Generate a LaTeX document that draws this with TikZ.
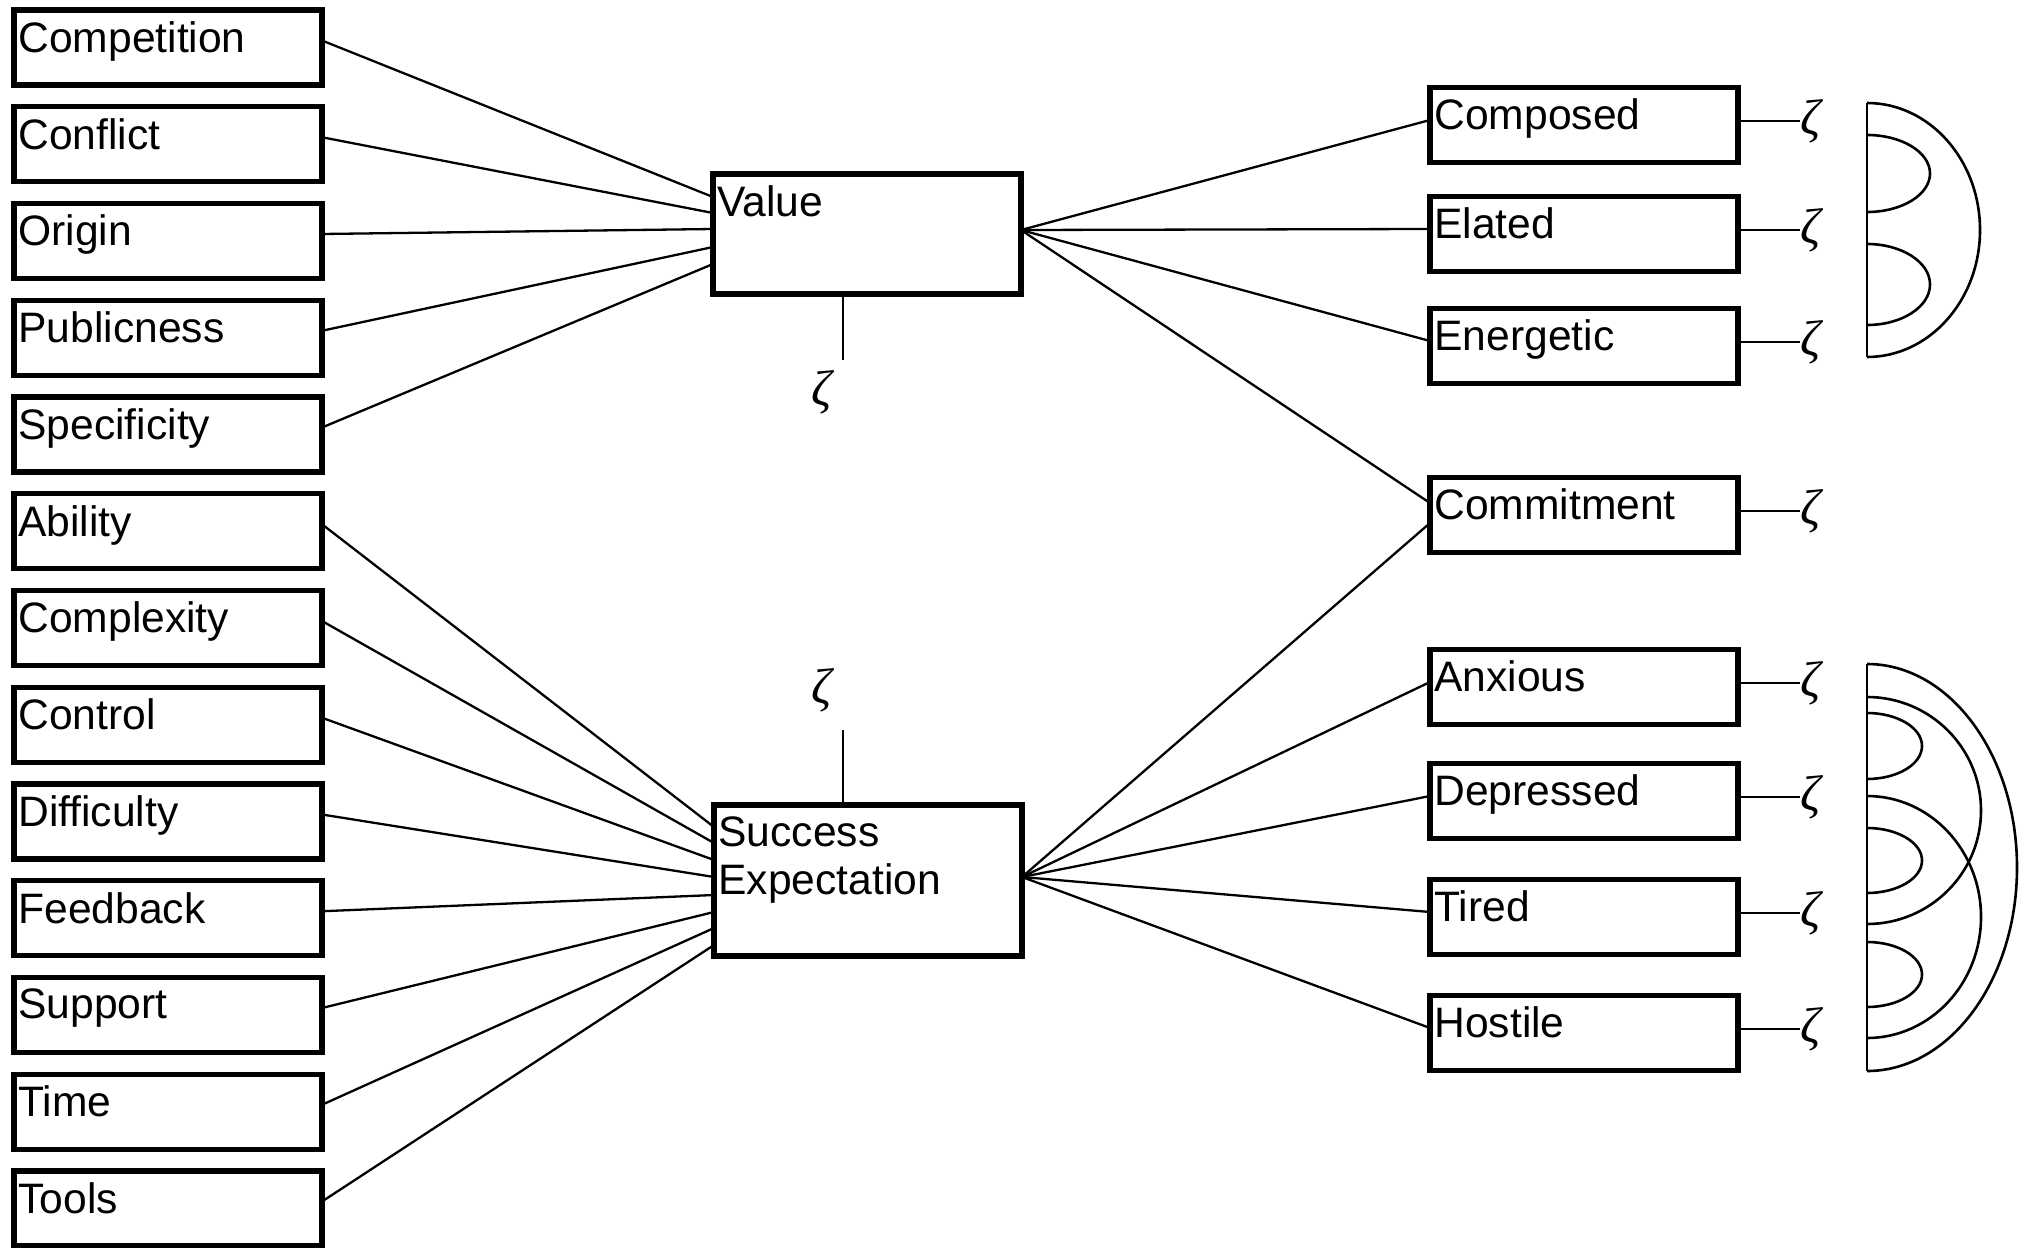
\documentclass[tikz,border=0pt]{standalone}
\usepackage{fontspec}
\setmainfont{Liberation Sans}
\newfontfamily\zetafont{Liberation Serif}
\usetikzlibrary{positioning}

\newcommand{\boxfont}{\fontsize{21.3}{24}\selectfont}
\newcommand{\zetasym}{{\zetafont\itshape ζ}}

\begin{document}
\begin{tikzpicture}[x=0.5pt,y=-0.5pt,
    var node/.style={draw,line width=2.6pt,outer sep=0pt,inner sep=0pt,
      minimum width=154pt,minimum height=37.5pt},
    lbl/.style={anchor=north west,inner sep=0pt,xshift=2pt,yshift=-5.5pt,
      font=\boxfont,align=left},
    zeta/.style={inner sep=0pt,font=\fontsize{25}{27}\selectfont},
    link/.style={line width=1.15pt},
    cov/.style={line width=1.3pt}]
\useasboundingbox (0,0) rectangle (2023,1247);

% goal characteristics
\node[var node,label={[lbl]north west:Competition}] (comp) at (168,47.5) {};
\node[var node,label={[lbl]north west:Conflict}] (conf) [below=10.875pt of comp] {};
\node[var node,label={[lbl]north west:Origin}] (orig) [below=10.875pt of conf] {};
\node[var node,label={[lbl]north west:Publicness}] (publ) [below=10.875pt of orig] {};
\node[var node,label={[lbl]north west:Specificity}] (spec) [below=10.875pt of publ] {};
\node[var node,label={[lbl]north west:Ability}] (abil) [below=10.875pt of spec] {};
\node[var node,label={[lbl]north west:Complexity}] (cplx) [below=10.875pt of abil] {};
\node[var node,label={[lbl]north west:Control}] (ctrl) [below=10.875pt of cplx] {};
\node[var node,label={[lbl]north west:Difficulty}] (diff) [below=10.875pt of ctrl] {};
\node[var node,label={[lbl]north west:Feedback}] (feed) [below=10.875pt of diff] {};
\node[var node,label={[lbl]north west:Support}] (supp) [below=10.875pt of feed] {};
\node[var node,label={[lbl]north west:Time}] (time) [below=10.875pt of supp] {};
\node[var node,label={[lbl]north west:Tools}] (tool) [below=10.875pt of time] {};

% mediators
\node[var node,minimum height=60pt,label={[lbl]north west:Value}] (val) at (867,234) {};
\node[var node,minimum height=75.5pt,label={[lbl]north west:Success\\Expectation}] (se) at (868,880.5) {};

% outcomes
\node[var node,label={[lbl]north west:Composed}] (compo) at (1584,125) {};
\node[var node,label={[lbl]north west:Elated}] (elat) [below=17pt of compo] {};
\node[var node,label={[lbl]north west:Energetic}] (ener) [below=18.5pt of elat] {};
\node[var node,label={[lbl]north west:Commitment}] (commit) [below=47pt of ener] {};
\node[var node,label={[lbl]north west:Anxious}] (anx) [below=48.5pt of commit] {};
\node[var node,label={[lbl]north west:Depressed}] (depr) [below=19.5pt of anx] {};
\node[var node,label={[lbl]north west:Tired}] (tired) [below=20.5pt of depr] {};
\node[var node,label={[lbl]north west:Hostile}] (host) [below=20.5pt of tired] {};

% disturbances
\node[zeta] (zval) at (822,392) {\zetasym};
\node[zeta] (zse) at (822,690) {\zetasym};
\coordinate (vtail) at (843,360);
\coordinate (stail) at (843,730);
\node[zeta,right=31pt of compo,yshift=2pt] (zcompo) {\zetasym};
\node[zeta,right=31pt of elat,yshift=2pt] (zelat) {\zetasym};
\node[zeta,right=31pt of ener,yshift=2pt] (zener) {\zetasym};
\node[zeta,right=31pt of commit,yshift=2pt] (zcommit) {\zetasym};
\node[zeta,right=31pt of anx,yshift=2pt] (zanx) {\zetasym};
\node[zeta,right=31pt of depr,yshift=2pt] (zdepr) {\zetasym};
\node[zeta,right=31pt of tired,yshift=2pt] (ztired) {\zetasym};
\node[zeta,right=31pt of host,yshift=2pt] (zhost) {\zetasym};

\path[link]
    ([yshift=3.5pt]comp.east) edge ([yshift=18.5pt]val.west)
    ([yshift=3.5pt]conf.east) edge ([yshift=10.5pt]val.west)
    ([yshift=3.5pt]orig.east) edge ([yshift=2.5pt]val.west)
    ([yshift=3.5pt]publ.east) edge ([yshift=-6.5pt]val.west)
    ([yshift=3.5pt]spec.east) edge ([yshift=-15pt]val.west)
    ([yshift=3.5pt]abil.east) edge ([yshift=26.75pt]se.west)
    ([yshift=3.5pt]cplx.east) edge ([yshift=18.75pt]se.west)
    ([yshift=3.5pt]ctrl.east) edge ([yshift=10.25pt]se.west)
    ([yshift=3.5pt]diff.east) edge ([yshift=1.75pt]se.west)
    ([yshift=3.5pt]feed.east) edge ([yshift=-7.25pt]se.west)
    ([yshift=3.5pt]supp.east) edge ([yshift=-15.75pt]se.west)
    ([yshift=3.5pt]time.east) edge ([yshift=-23.75pt]se.west)
    ([yshift=3.5pt]tool.east) edge ([yshift=-32.25pt]se.west)
    ([yshift=2pt]val.east) edge ([yshift=2.5pt]compo.west)
                           edge ([yshift=2.5pt]elat.west)
                           edge ([yshift=2.5pt]ener.west)
                           edge ([yshift=6pt]commit.west)
    ([yshift=1.75pt]se.east) edge ([yshift=-4pt]commit.west)
                             edge ([yshift=2.5pt]anx.west)
                             edge ([yshift=2.5pt]depr.west)
                             edge ([yshift=2.5pt]tired.west)
                             edge ([yshift=2.5pt]host.west);

\draw[link] (vtail |- val.south) -- (vtail);
\draw[link] (stail |- se.north) -- (stail);
\draw[link] (zcompo.west -| compo.east) -- (zcompo.west);
\draw[link] (zelat.west -| elat.east) -- (zelat.west);
\draw[link] (zener.west -| ener.east) -- (zener.west);
\draw[link] (zcommit.west -| commit.east) -- (zcommit.west);
\draw[link] (zanx.west -| anx.east) -- (zanx.west);
\draw[link] (zdepr.west -| depr.east) -- (zdepr.west);
\draw[link] (ztired.west -| tired.east) -- (ztired.west);
\draw[link] (zhost.west -| host.east) -- (zhost.west);

% correlated disturbances
\draw[cov] (1867,103) -- (1867,357);
\draw[cov] (1867,103) arc[start angle=90,end angle=-90,x radius=56.5pt,y radius=63.5pt];
\draw[cov] (1867,135) arc[start angle=90,end angle=-90,x radius=31.5pt,y radius=19.25pt];
\draw[cov] (1867,244) arc[start angle=90,end angle=-90,x radius=31.5pt,y radius=20.25pt];

\draw[cov] (1867,664) -- (1867,1071);
\draw[cov] (1867,664) arc[start angle=90,end angle=-90,x radius=75pt,y radius=101.75pt];
\draw[cov] (1867,697) arc[start angle=90,end angle=-90,x radius=57pt,y radius=56.75pt];
\draw[cov] (1867,796) arc[start angle=90,end angle=-90,x radius=57pt,y radius=60.5pt];
\draw[cov] (1867,713) arc[start angle=90,end angle=-90,x radius=27.5pt,y radius=16.5pt];
\draw[cov] (1867,828) arc[start angle=90,end angle=-90,x radius=27.5pt,y radius=16.25pt];
\draw[cov] (1867,942) arc[start angle=90,end angle=-90,x radius=27.5pt,y radius=16.25pt];
\end{tikzpicture}
\end{document}
